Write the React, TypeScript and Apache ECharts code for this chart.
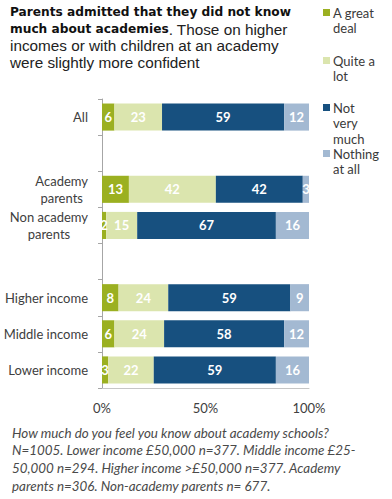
import React, { useEffect, useRef } from "react";
import * as echarts from "echarts";

const categories = [
  "All",
  " ",
  "Academy\nparents",
  "Non academy\nparents",
  "  ",
  "Higher income",
  "Middle income",
  "Lower income",
];
const seriesNames = ["A great deal", "Quite a lot", "Not very much", "Nothing at all"];
const legendLabels = ["A great\ndeal", "Quite a\nlot", "Not\nvery\nmuch", "Nothing\nat all"];
const greatDeal: (number | string)[] = [6, "-", 13, 2, "-", 8, 6, 3];
const quiteALot: (number | string)[] = [23, "-", 42, 15, "-", 24, 24, 22];
const notVeryMuch: (number | string)[] = [59, "-", 42, 67, "-", 59, 58, 59];
const nothingAtAll: (number | string)[] = [12, "-", 3, 16, "-", 9, 12, 16];
const xTicks = [0, 50, 100];
const colors = ["#9bb021", "#dbe5ae", "#17507f", "#a3b9d2"];

const titleBold = ["Parents admitted that they did not know", "much about academies"];
const titleNormal = [". Those on higher", "incomes or with children at an academy", "were slightly more confident"];
const footnote =
  "How much do you feel you know about academy schools?\nN=1005. Lower income \u00a350,000 n=377. Middle income \u00a325-\n50,000 n=294. Higher income >\u00a350,000 n=377. Academy\nparents n=306. Non-academy parents n= 677.";

export default function App() {
  const ref = useRef<HTMLDivElement>(null);
  useEffect(() => {
    if (!ref.current) return;
    const chart = echarts.init(ref.current, null, { renderer: "svg" });
    const allData = [greatDeal, quiteALot, notVeryMuch, nothingAtAll];
    const legendTops = [9, 57, 104, 150];
    const graphics: any[] = [];
    seriesNames.forEach((n, i) => {
      graphics.push({
        type: "rect",
        left: 323,
        top: legendTops[i],
        shape: { width: 7, height: 7 },
        style: { fill: colors[i] },
      });
      graphics.push({
        type: "text",
        x: 333,
        y: legendTops[i] - 4,
        style: {
          text: legendLabels[i],
          fontFamily: "Lato",
          fontSize: 13,
          lineHeight: 15.5,
          fill: "#3a3a3a",
          verticalAlign: "top",
        },
      });
    });
    graphics.push({
      type: "text",
      x: 12,
      y: 424,
      style: {
        text: footnote,
        fontFamily: "Lato",
        fontStyle: "italic",
        fontSize: 13.4,
        lineHeight: 17.6,
        fill: "#4a4a4a",
        verticalAlign: "top",
      },
    });

    const titleText =
      `{b|${titleBold[0]}}\n{b|${titleBold[1]}}{n|${titleNormal[0]}}\n{n|${titleNormal[1]}}\n{n|${titleNormal[2]}}`;

    chart.setOption({
      animation: false,
      backgroundColor: "#ffffff",
      title: {
        text: titleText,
        left: 10,
        top: 4,
        padding: 0,
        textStyle: {
          fontWeight: "normal",
          rich: {
            b: {
              fontFamily: "DejaVu Sans",
              fontWeight: "bold",
              fontSize: 12.2,
              color: "#111",
              lineHeight: 16.7,
            },
            n: {
              fontFamily: "Liberation Sans",
              fontWeight: "normal",
              fontSize: 15.3,
              color: "#222",
              lineHeight: 16.7,
            },
          },
        },
      },
      grid: { left: 102, right: 83, top: 99, bottom: 111, containLabel: false },
      xAxis: {
        type: "value",
        min: 0,
        max: 100,
        interval: 50,
        axisLine: { show: true, lineStyle: { color: "#c6c6c6" } },
        axisTick: { show: false },
        splitLine: { show: false },
        axisLabel: {
          margin: 13,
          fontFamily: "Lato",
          fontSize: 13,
          color: "#404040",
          formatter: (v: number) => (xTicks.includes(v) ? `${v}%` : ""),
        },
      },
      yAxis: {
        type: "category",
        inverse: true,
        data: categories,
        axisLine: { show: true, lineStyle: { color: "#a6a6a6" } },
        axisTick: { show: true, length: 4, interval: 0, lineStyle: { color: "#a6a6a6" } },
        axisLabel: {
          margin: 14,
          interval: 0,
          fontFamily: "Lato",
          fontSize: 13,
          color: "#404040",
          lineHeight: 16.5,
          formatter: (v: string) =>
            v.includes("\n")
              ? v
                  .split("\n")
                  .map((l) => `{c|${l}}`)
                  .join("\n")
              : v,
          rich: {
            c: {
              align: "center",
              fontFamily: "Lato",
              fontSize: 13,
              color: "#404040",
              lineHeight: 16.5,
            },
          },
        },
      },
      series: seriesNames.map((name, i) => ({
        name,
        type: "bar",
        stack: "total",
        barWidth: "75%",
        data: allData[i],
        itemStyle: { color: colors[i] },
        label: {
          show: true,
          position: "inside",
          color: "#ffffff",
          fontFamily: "Lato",
          fontWeight: "bold",
          fontSize: 13,
        },
      })),
      graphic: graphics,
    });
    return () => chart.dispose();
  }, []);
  return (
    <div
      ref={ref}
      style={{ position: "absolute", left: 0, top: 0, width: 392, height: 499 }}
    />
  );
}
